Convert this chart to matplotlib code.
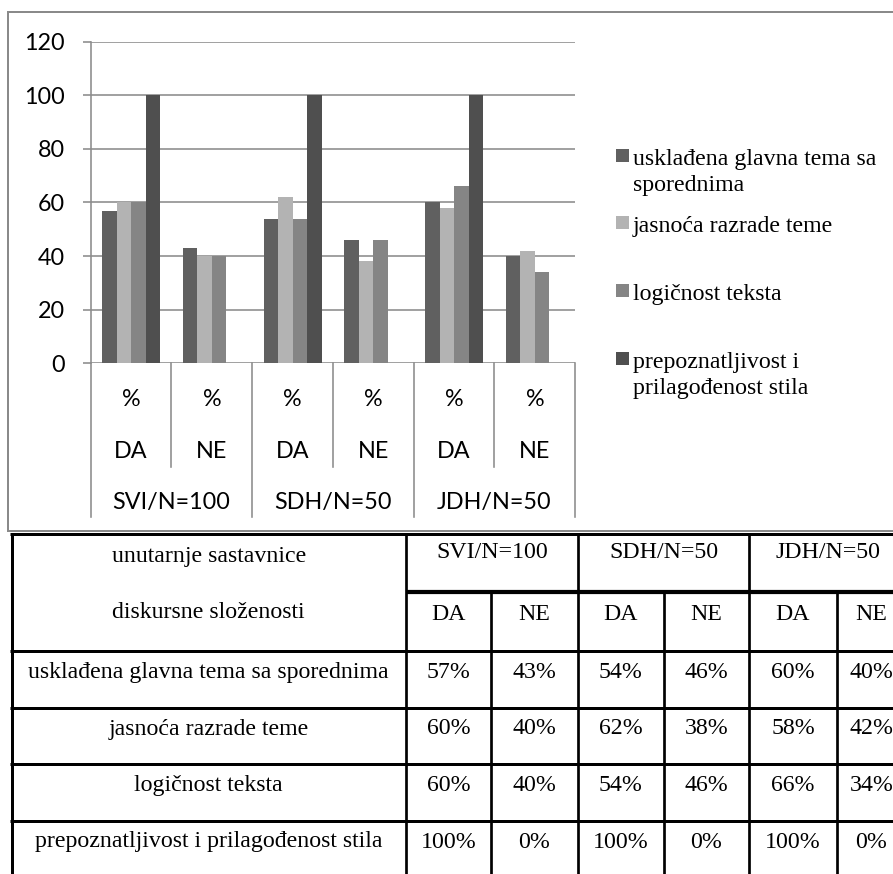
import numpy as np
import matplotlib
matplotlib.use("Agg")
import matplotlib.pyplot as plt
import matplotlib.transforms as mtransforms
from matplotlib.lines import Line2D
from matplotlib.patches import Rectangle

# ---------------- data ----------------
groups = ["SVI/N=100", "SDH/N=50", "JDH/N=50"]
answers = ["DA", "NE", "DA", "NE", "DA", "NE"]
units = ["%", "%", "%", "%", "%", "%"]
series_names = [
    "usklađena glavna tema sa sporednima",
    "jasnoća razrade teme",
    "logičnost teksta",
    "prepoznatljivost i prilagođenost stila",
]
legend_lines = [
    ["usklađena glavna tema sa", "sporednima"],
    ["jasnoća razrade teme"],
    ["logičnost teksta"],
    ["prepoznatljivost i", "prilagođenost stila"],
]
uskladena = [57, 43, 54, 46, 60, 40]
jasnoca = [60, 40, 62, 38, 58, 42]
logicnost = [60, 40, 54, 46, 66, 34]
prepoznatljivost = [100, 0, 100, 0, 100, 0]
series = [uskladena, jasnoca, logicnost, prepoznatljivost]
yticks = [0, 20, 40, 60, 80, 100, 120]
table_header = ["unutarnje sastavnice", "diskursne složenosti"]

colors = ["#606060", "#b3b3b3", "#858585", "#4f4f4f"]
grid_c = "#8c8c8c"

W, H = 893, 874
px = 0.72  # points per pixel at dpi 100


def fx(x):
    return x / W


def fy(y):
    return 1 - y / H


plt.rcParams["font.family"] = ["Lato", "DejaVu Sans"]
fig = plt.figure(figsize=(W / 100, H / 100), dpi=100)

# ---------------- chart ----------------
ax_l, ax_r, ax_t, ax_b = 90.7, 575.2, 41.7, 363.3
ax = fig.add_axes([fx(ax_l), fy(ax_b), (ax_r - ax_l) / W, (ax_b - ax_t) / H])
xc = np.arange(len(answers)) + 0.5
bw = 0.18
for i, vals in enumerate(series):
    ax.bar(xc + (i - 1.5) * bw, vals, bw, color=colors[i], linewidth=0, zorder=2)
ax.set_xlim(0, len(answers))
ax.set_ylim(0, 120)
ax.set_yticks(yticks)
ax.set_yticklabels([str(t) for t in yticks])
ax.grid(axis="y", color=grid_c, lw=1.6 * px, zorder=0)
ax.set_axisbelow(True)
for s in ["top", "right", "bottom"]:
    ax.spines[s].set_visible(False)
ax.spines["left"].set_color(grid_c)
ax.spines["left"].set_linewidth(1.6 * px)
ax.tick_params(axis="y", length=8.3 * px, width=1.6 * px, color=grid_c,
               pad=17.7 * px, labelsize=16.8)
ax.tick_params(axis="x", length=0, labelbottom=False)

trans = mtransforms.blended_transform_factory(ax.transData, fig.transFigure)
for i in range(len(answers)):
    ax.text(xc[i], fy(406.5), units[i], transform=trans, ha="center",
            va="baseline", fontsize=16.8)
    ax.text(xc[i], fy(458.3), answers[i], transform=trans, ha="center",
            va="baseline", fontsize=16.8)
for g, lab in enumerate(groups):
    ax.text(2 * g + 1, fy(508.5), lab, transform=trans, ha="center",
            va="baseline", fontsize=16.8)
for k in range(len(answers) + 1):
    bottom = 517 if k % 2 == 0 else 466.7
    fig.add_artist(Line2D([k, k], [fy(ax_b), fy(bottom)], transform=trans,
                          color=grid_c, lw=1.6 * px, clip_on=False))

# legend
leg_base = [165.4, 232.4, 300.4, 368.4]
for i, lines in enumerate(legend_lines):
    b = leg_base[i]
    fig.add_artist(Rectangle((fx(616), fy(b - 3.5)), 13.3 / W, 13.3 / H,
                             transform=fig.transFigure, color=colors[i], lw=0))
    for j, ln in enumerate(lines):
        fig.text(fx(633), fy(b + j * 26.0), ln, family="Liberation Serif",
                 fontsize=17.2, va="baseline", ha="left")

# chart frame
frame_kw = dict(transform=fig.transFigure, color="#8a8a8a", lw=2 * px)
fig.add_artist(Line2D([fx(8), fx(8)], [fy(11.7), fy(531)], **frame_kw))
fig.add_artist(Line2D([fx(8), fx(900)], [fy(11.7), fy(11.7)], **frame_kw))
fig.add_artist(Line2D([fx(8), fx(900)], [fy(531), fy(531)], **frame_kw))

# ---------------- table ----------------
col_x = [11.5, 406, 491, 578, 664, 749, 837, 906]
row_lines = [650.7, 707.7, 764.3, 821]
row_base = [678, 734.5, 791, 847.5]
tk = dict(transform=fig.transFigure, color="black", solid_capstyle="butt")


def hline(y, x0, x1, lw):
    fig.add_artist(Line2D([fx(x0), fx(x1)], [fy(y), fy(y)], lw=lw * px, **tk))


def vline(x, y0, y1, lw):
    fig.add_artist(Line2D([fx(x), fx(x)], [fy(y0), fy(y1)], lw=lw * px, **tk))


hline(534, 10, 930, 3)
hline(592.3, col_x[1], 930, 4.2)
for y in row_lines:
    hline(y, 10, 930, 3)
vline(col_x[0], 532.5, 880, 3)
for k in [1, 3, 5]:
    vline(col_x[k], 532.5, 880, 2.7)
for k in [2, 4, 6]:
    vline(col_x[k], 592.3, 880, 2.7)

tfont = dict(family="Liberation Serif", fontsize=17.2, va="baseline", ha="center")
cx0 = (col_x[0] + col_x[1]) / 2
fig.text(fx(cx0), fy(562), table_header[0], **tfont)
fig.text(fx(cx0), fy(618.5), table_header[1], **tfont)
for g, lab in enumerate(groups):
    fig.text(fx((col_x[1 + 2 * g] + col_x[3 + 2 * g]) / 2), fy(558.5), lab, **tfont)
for c, lab in enumerate(answers):
    fig.text(fx((col_x[1 + c] + col_x[2 + c]) / 2), fy(619.5), lab, **tfont)
for r, name in enumerate(series_names):
    fig.text(fx(cx0), fy(row_base[r]), name, **tfont)
    for c, v in enumerate(series[r]):
        fig.text(fx((col_x[1 + c] + col_x[2 + c]) / 2), fy(row_base[r]),
                 f"{v}%", **tfont)

fig.savefig("out.png", dpi=100)
